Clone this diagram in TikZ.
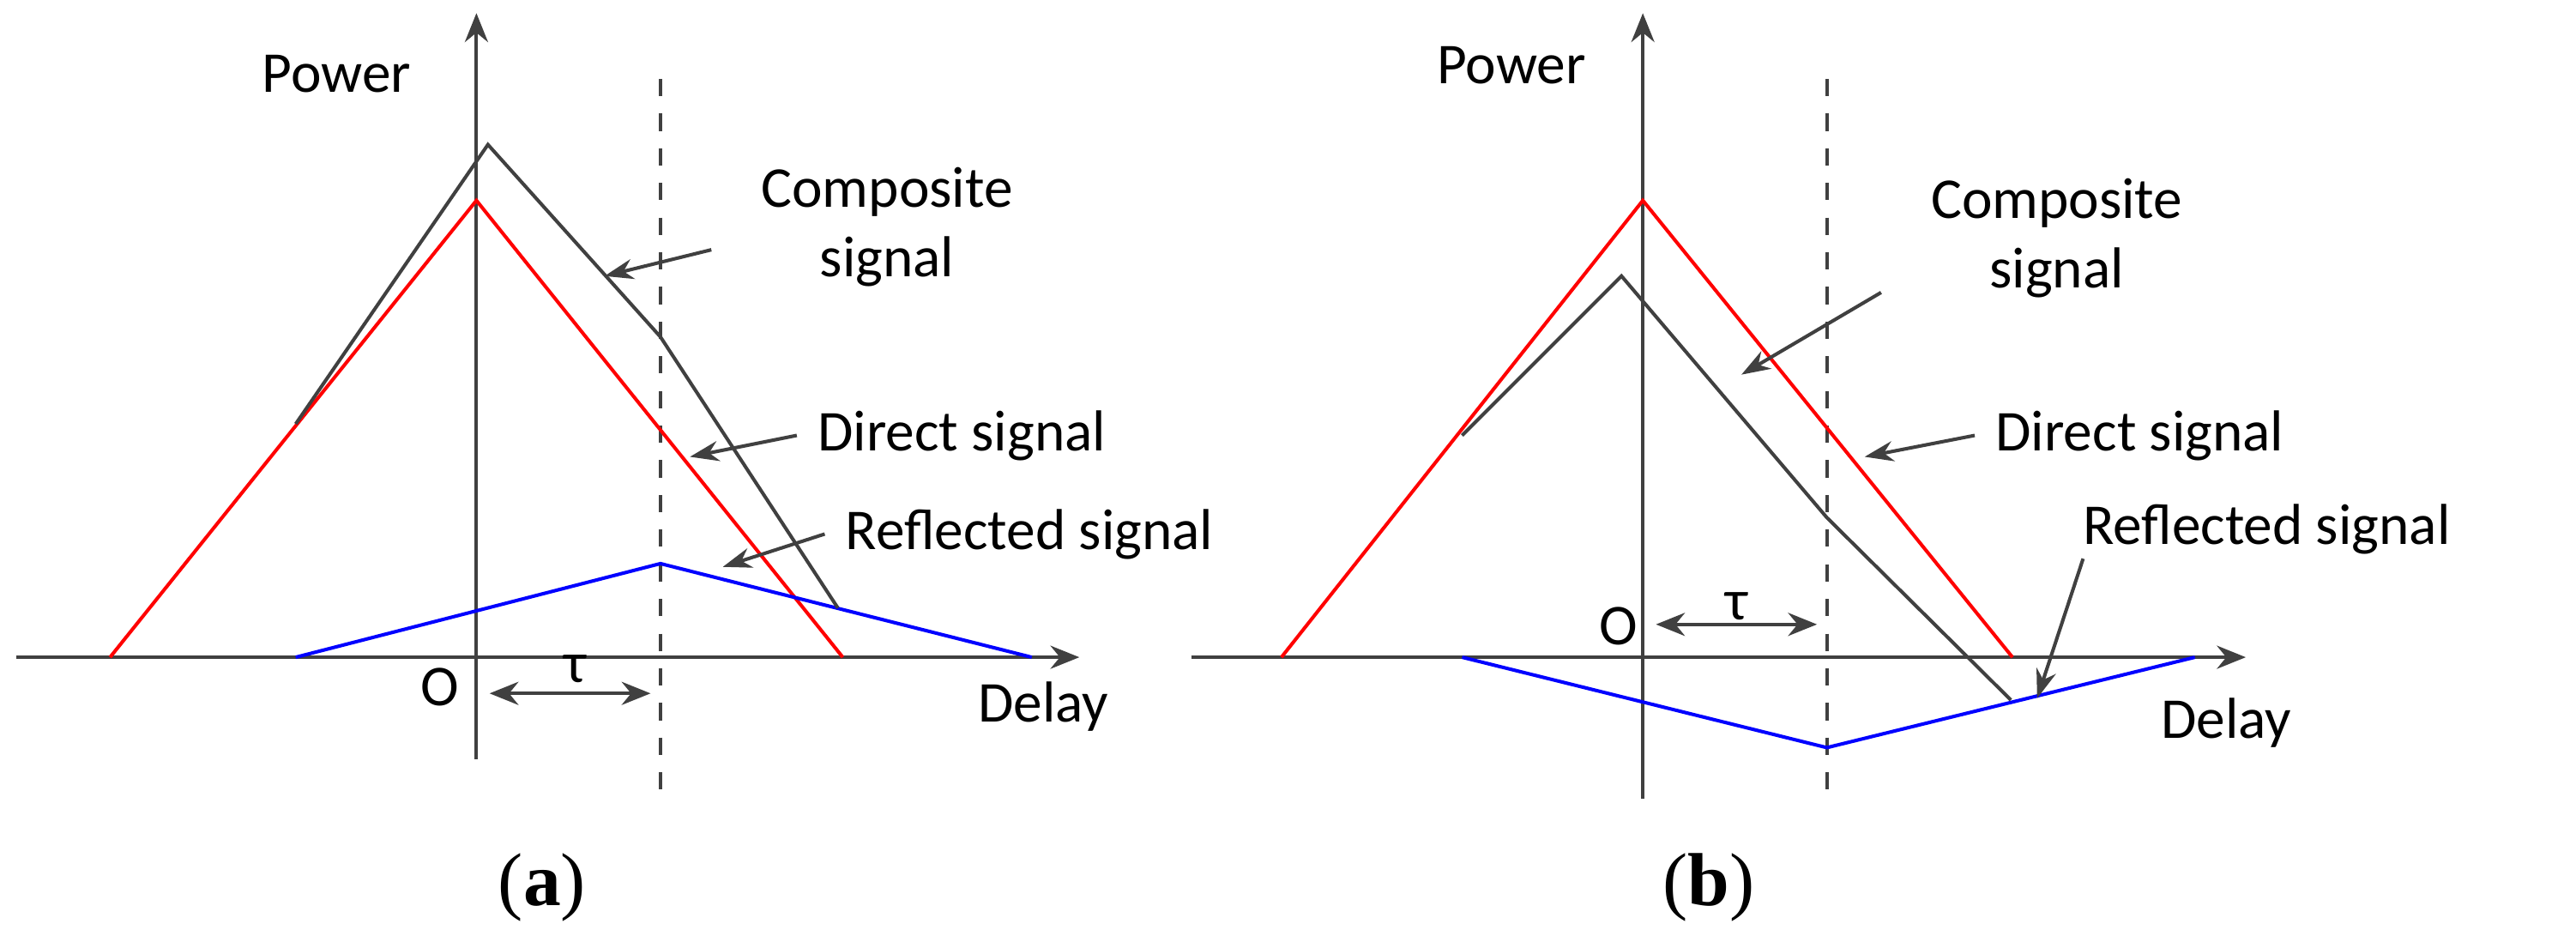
\documentclass[tikz,border=0pt]{standalone}
\usepackage{fontspec}
\setmainfont{Carlito}
\newfontfamily\capfont{Liberation Serif}
\usetikzlibrary{arrows.meta}
\begin{document}
\begin{tikzpicture}
        [x=0.01cm,y=-0.01cm,line width=0.6pt,
         every node/.style={font=\fontsize{10}{12}\selectfont},
         axis/.style={draw=black!75,-{Stealth[length=5pt,width=4pt]}},
         pointer/.style={draw=black!75,-{Stealth[length=5pt,width=3.5pt]}},
         direct/.style={red},
         reflected/.style={blue},
         composite/.style={black!75}]
        \useasboundingbox (0,0) rectangle (1568,566);

        % (a)
        \coordinate (ay1) at (290,462);
        \coordinate (ay2) at (290,8);
        \coordinate (ax1) at (10,400);
        \coordinate (ax2) at (657,400);
        \coordinate (ad1) at (402,48);
        \coordinate (ad2) at (402,486);
        \coordinate (ar1) at (67,400);
        \coordinate (ar2) at (290,122);
        \coordinate (ar3) at (513,400);
        \coordinate (ab1) at (180,400);
        \coordinate (ab2) at (402,343);
        \coordinate (ab3) at (628,400);
        \coordinate (ac1) at (180,258);
        \coordinate (ac2) at (297,88);
        \coordinate (ac3) at (402,205);
        \coordinate (ac4) at (510,370);
        \draw[axis] (ax1) -- (ax2);
        \draw[axis] (ay1) -- (ay2);
        \draw[black!75,dashed] (ad1) -- (ad2);
        \draw[direct] (ar1) -- (ar2) -- (ar3);
        \draw[reflected] (ab1) -- (ab2) -- (ab3);
        \draw[composite] (ac1) -- (ac2) -- (ac3) -- (ac4);
        \node (apower) at (205,45) {Power};
        \node (ao) at (268,418) {O};
        \node (adelay) at (635,430) {Delay};
        \node (atau) at (350,407) {τ};
        \coordinate (at1) at (298,422);
        \coordinate (at2) at (396,422);
        \draw[black!75,{Stealth[length=5pt,width=4pt]}-{Stealth[length=5pt,width=4pt]}] (at1) -- (at2);
        \node[align=center] (acomp) at (540,138) {Composite\\signal};
        \node[anchor=west] (adir) at (485,265) {Direct signal};
        \node[anchor=west] (aref) at (502,325) {Reflected signal};
        \coordinate (acp) at (368,168);
        \coordinate (adp) at (420,278);
        \coordinate (arp) at (440,345);
        \draw[pointer] (433,152) -- (acp);
        \draw[pointer] (adir.west) -- (adp);
        \draw[pointer] (aref.west) -- (arp);
        \node (alab) at (330,540) {\capfont\fontsize{13}{15}\selectfont (\textbf{a})};

        % (b)
        \coordinate (by1) at (1000,486);
        \coordinate (by2) at (1000,8);
        \coordinate (bx1) at (725,400);
        \coordinate (bx2) at (1367,400);
        \coordinate (bd1) at (1112,48);
        \coordinate (bd2) at (1112,486);
        \coordinate (br1) at (780,400);
        \coordinate (br2) at (1000,122);
        \coordinate (br3) at (1225,400);
        \coordinate (bb1) at (890,400);
        \coordinate (bb2) at (1112,455);
        \coordinate (bb3) at (1336,400);
        \coordinate (bc1) at (890,265);
        \coordinate (bc2) at (987,168);
        \coordinate (bc3) at (1112,315);
        \coordinate (bc4) at (1224,426);
        \draw[axis] (bx1) -- (bx2);
        \draw[axis] (by1) -- (by2);
        \draw[black!75,dashed] (bd1) -- (bd2);
        \draw[direct] (br1) -- (br2) -- (br3);
        \draw[reflected] (bb1) -- (bb2) -- (bb3);
        \draw[composite] (bc1) -- (bc2) -- (bc3) -- (bc4);
        \node (bpower) at (920,40) {Power};
        \node (bo) at (985,381) {O};
        \node (bdelay) at (1355,440) {Delay};
        \node (btau) at (1057,369) {τ};
        \coordinate (bt1) at (1008,380);
        \coordinate (bt2) at (1106,380);
        \draw[black!75,{Stealth[length=5pt,width=4pt]}-{Stealth[length=5pt,width=4pt]}] (bt1) -- (bt2);
        \node[align=center] (bcomp) at (1252,145) {Composite\\signal};
        \node[anchor=west] (bdir) at (1202,265) {Direct signal};
        \node[anchor=west] (bref) at (1255,322) {Reflected signal};
        \coordinate (bcp) at (1060,228);
        \coordinate (bdp) at (1135,278);
        \coordinate (brp) at (1240,425);
        \draw[pointer] (1145,178) -- (bcp);
        \draw[pointer] (bdir.west) -- (bdp);
        \draw[pointer] (1268,340) -- (brp);
        \node (blab) at (1040,540) {\capfont\fontsize{13}{15}\selectfont (\textbf{b})};
\end{tikzpicture}
\end{document}
